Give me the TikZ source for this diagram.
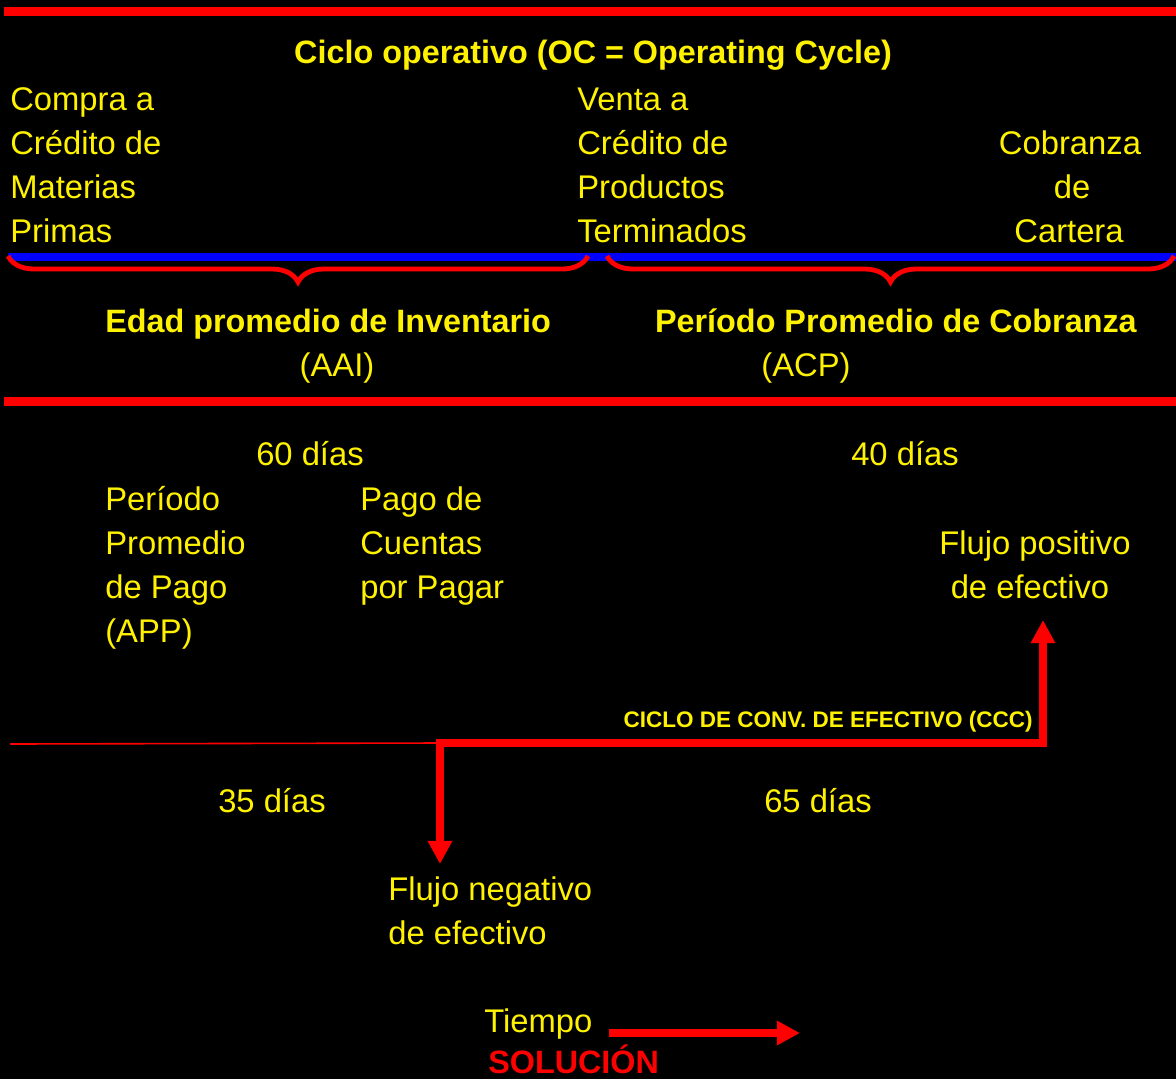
\documentclass[tikz,border=0pt]{standalone}
\usepackage{fontspec}
\setmainfont{Liberation Sans}
\usetikzlibrary{arrows.meta,decorations.pathreplacing}

\begin{document}
\begin{tikzpicture}[x=0.025cm,y=-0.025cm,>={Triangle[length=5.8mm,width=5.8mm]}]

\def\rowsep{44}

\tikzstyle{txt}=[text=yellow,font=\fontsize{23.3}{28}\selectfont,inner sep=0pt]
\tikzstyle{boldTxt}=[txt,font=\fontsize{23}{28}\selectfont\bfseries]
\tikzstyle{smallTxt}=[txt,font=\fontsize{16}{19}\selectfont\bfseries]
\tikzstyle{redBar}=[red,line width=2.25mm]
\tikzstyle{curly}=[red,line width=1.2mm,decorate,decoration={brace,mirror,amplitude=6.5mm}]
\tikzstyle{flow}=[red,line width=1.9mm]

%background
\fill[black] (0,0) rectangle (1176,1079);
\useasboundingbox (0,0) rectangle (1176,1079);

%Top part: operating cycle
\draw[redBar] (4,11) -- (1176,11);
\node[boldTxt,anchor=base] (ciclo) at (593,63) {Ciclo operativo (OC = Operating Cycle)};

\node[txt,anchor=base west] (compra1) at (10,110) {Compra a};
\node[txt,anchor=base west] (compra2) at (10,110+\rowsep) {Crédito de};
\node[txt,anchor=base west] (compra3) at (10,110+2*\rowsep) {Materias};
\node[txt,anchor=base west] (compra4) at (10,110+3*\rowsep) {Primas};

\node[txt,anchor=base west] (venta1) at (577,110) {Venta a};
\node[txt,anchor=base west] (venta2) at (577,110+\rowsep) {Crédito de};
\node[txt,anchor=base west] (venta3) at (577,110+2*\rowsep) {Productos};
\node[txt,anchor=base west] (venta4) at (577,110+3*\rowsep) {Terminados};

\node[txt,anchor=base] (cobranza1) at (1070,110+\rowsep) {Cobranza};
\node[txt,anchor=base] (cobranza2) at (1072,110+2*\rowsep) {de};
\node[txt,anchor=base] (cobranza3) at (1069,110+3*\rowsep) {Cartera};

\draw[blue,line width=2mm] (8,257) -- (1176,257);

\coordinate (braceL1) at (8,256);
\coordinate (braceL2) at (588,256);
\coordinate (braceR1) at (607,256);
\coordinate (braceR2) at (1174,256);
\draw[curly] (braceL1) -- (braceL2);
\draw[curly] (braceR1) -- (braceR2);

\node[boldTxt,anchor=base west] (edadProm) at (105,332) {Edad promedio de Inventario};
\node[txt,anchor=base] (aai) at (337,376) {(AAI)};
\node[boldTxt,anchor=base east] (perCobranza) at (1137,332) {Período Promedio de Cobranza};
\node[txt,anchor=base] (acp) at (806,376) {(ACP)};

\draw[redBar] (4,401) -- (1176,401);

%Bottom part: cash conversion cycle
\node[txt,anchor=base] (dias60) at (310,465) {60 días};
\node[txt,anchor=base] (dias40) at (905,465) {40 días};

\node[txt,anchor=base west] (app1) at (105,510) {Período};
\node[txt,anchor=base west] (app2) at (105,510+\rowsep) {Promedio};
\node[txt,anchor=base west] (app3) at (105,510+2*\rowsep) {de Pago};
\node[txt,anchor=base west] (app4) at (105,510+3*\rowsep) {(APP)};

\node[txt,anchor=base west] (pago1) at (360,510) {Pago de};
\node[txt,anchor=base west] (pago2) at (360,510+\rowsep) {Cuentas};
\node[txt,anchor=base west] (pago3) at (360,510+2*\rowsep) {por Pagar};

\node[txt,anchor=base] (flujoPos1) at (1035,510+\rowsep) {Flujo positivo};
\node[txt,anchor=base] (flujoPos2) at (1030,510+2*\rowsep) {de efectivo};

\node[smallTxt,anchor=base east] (ccc) at (1033,727) {CICLO DE CONV. DE EFECTIVO (CCC)};

\node[txt,anchor=base] (dias35) at (272,812) {35 días};
\node[txt,anchor=base] (dias65) at (818,812) {65 días};

\node[txt,anchor=base west] (flujoNeg1) at (388,900) {Flujo negativo};
\node[txt,anchor=base west] (flujoNeg2) at (388,900+\rowsep) {de efectivo};

\coordinate (thinStart) at (10,744);
\coordinate (negTip) at (440,864);
\coordinate (cccLeft) at (440,743);
\coordinate (cccRight) at (1043,743);
\coordinate (posTip) at (1043,620);

\draw[red,line width=0.4mm] (thinStart) -- (cccLeft);
\draw[flow,<->] (negTip) -- (cccLeft) -- (cccRight) -- (posTip);

\node[txt,anchor=base west] (tiempo) at (484,1032) {Tiempo};
\coordinate (timeStart) at (609,1033);
\coordinate (timeEnd) at (800,1033);
\draw[flow,->] (timeStart) -- (timeEnd);

\node[boldTxt,text=red,anchor=base west] (solucion) at (488,1073) {SOLUCIÓN};

\end{tikzpicture}
\end{document}
